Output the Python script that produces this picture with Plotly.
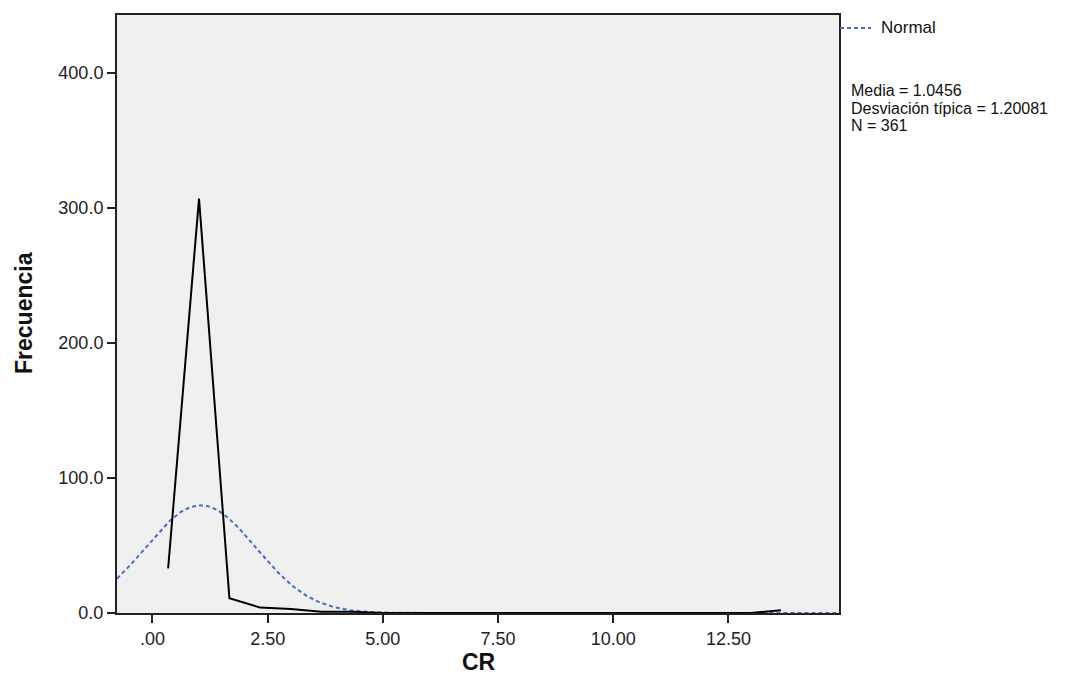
import numpy as np
import plotly.graph_objects as go

# --- data ---
bin_mids = [0.34, 1.01, 1.67, 2.34, 3.00, 3.67, 4.33, 5.00, 5.66, 6.33, 6.99,
            7.66, 8.32, 8.99, 9.65, 10.32, 10.98, 11.65, 12.31, 12.98, 13.64]
freqs = [33, 307, 11, 4, 3, 1, 1, 0, 0, 0, 0,
         0, 0, 0, 0, 0, 0, 0, 0, 0, 2]

mean_cr = 1.0456
sd_cr = 1.20081
n_cr = 361
bin_width = 0.665

x_tickvals = [0, 2.5, 5, 7.5, 10, 12.5]
x_ticktext = [".00", "2.50", "5.00", "7.50", "10.00", "12.50"]
y_tickvals = [0, 100, 200, 300, 400]
y_ticktext = ["0.0", "100.0", "200.0", "300.0", "400.0"]
x_range = [-0.77, 14.9]
y_range = [0, 443]

# normal curve defined by the statistics shown on the chart
xn = np.linspace(x_range[0], x_range[1], 400)
yn = n_cr * bin_width / (sd_cr * np.sqrt(2 * np.pi)) * np.exp(-0.5 * ((xn - mean_cr) / sd_cr) ** 2)

FONT = "Liberation Sans, Arial, sans-serif"
BLUE = "#4a6cc9"

fig = go.Figure()
fig.add_trace(go.Scatter(x=xn, y=yn, mode="lines",
                         line=dict(color=BLUE, width=2, dash="4px,3px"),
                         showlegend=False, hoverinfo="skip"))
fig.add_trace(go.Scatter(x=bin_mids, y=freqs, mode="lines",
                         line=dict(color="black", width=2),
                         showlegend=False))

axis_common = dict(showgrid=False, zeroline=False, showline=True, linecolor="#222",
                   linewidth=2, mirror=True, ticks="outside", ticklen=8,
                   tickwidth=1.5, tickcolor="#222",
                   tickfont=dict(family=FONT, size=18, color="#222"))

fig.update_xaxes(range=x_range, tickvals=x_tickvals, ticktext=x_ticktext, **axis_common)
fig.update_yaxes(range=y_range, tickvals=y_tickvals, ticktext=y_ticktext, **axis_common)

L, R, T, B = 117, 252, 15, 76
W, H = 1091, 689
pw, ph = W - L - R, H - T - B

def px(x):
    return (x - L) / pw

def py(y):
    return (H - B - y) / ph

annotations = [
    dict(text="<b>Frecuencia</b>", x=px(24), y=py(313), xref="paper", yref="paper",
         textangle=-90, showarrow=False, font=dict(family=FONT, size=23, color="#111"),
         xanchor="center", yanchor="middle"),
    dict(text="<b>CR</b>", x=px(479), y=py(662), xref="paper", yref="paper",
         showarrow=False, font=dict(family=FONT, size=23, color="#111"),
         xanchor="center", yanchor="middle"),
    dict(text="Normal", x=px(879), y=py(28), xref="paper", yref="paper",
         showarrow=False, font=dict(family=FONT, size=17, color="#111"),
         xanchor="left", yanchor="middle"),
]
stat_lines = [f"Media = {mean_cr:.4f}", f"Desviación típica = {sd_cr:.5f}", f"N = {n_cr}"]
for i, t in enumerate(stat_lines):
    annotations.append(dict(text=t, x=px(849), y=py(90 + 18 * i), xref="paper", yref="paper",
                            showarrow=False, font=dict(family=FONT, size=16, color="#111"),
                            xanchor="left", yanchor="middle"))

fig.update_layout(
    width=W, height=H,
    margin=dict(l=L, r=R, t=T, b=B),
    paper_bgcolor="white", plot_bgcolor="#f0f0f0",
    annotations=annotations,
    shapes=[dict(type="line", xref="paper", yref="paper", x0=px(840), x1=px(871),
                 y0=py(28), y1=py(28), line=dict(color=BLUE, width=2, dash="4px,3px"))],
)

fig.write_html("out.html")
